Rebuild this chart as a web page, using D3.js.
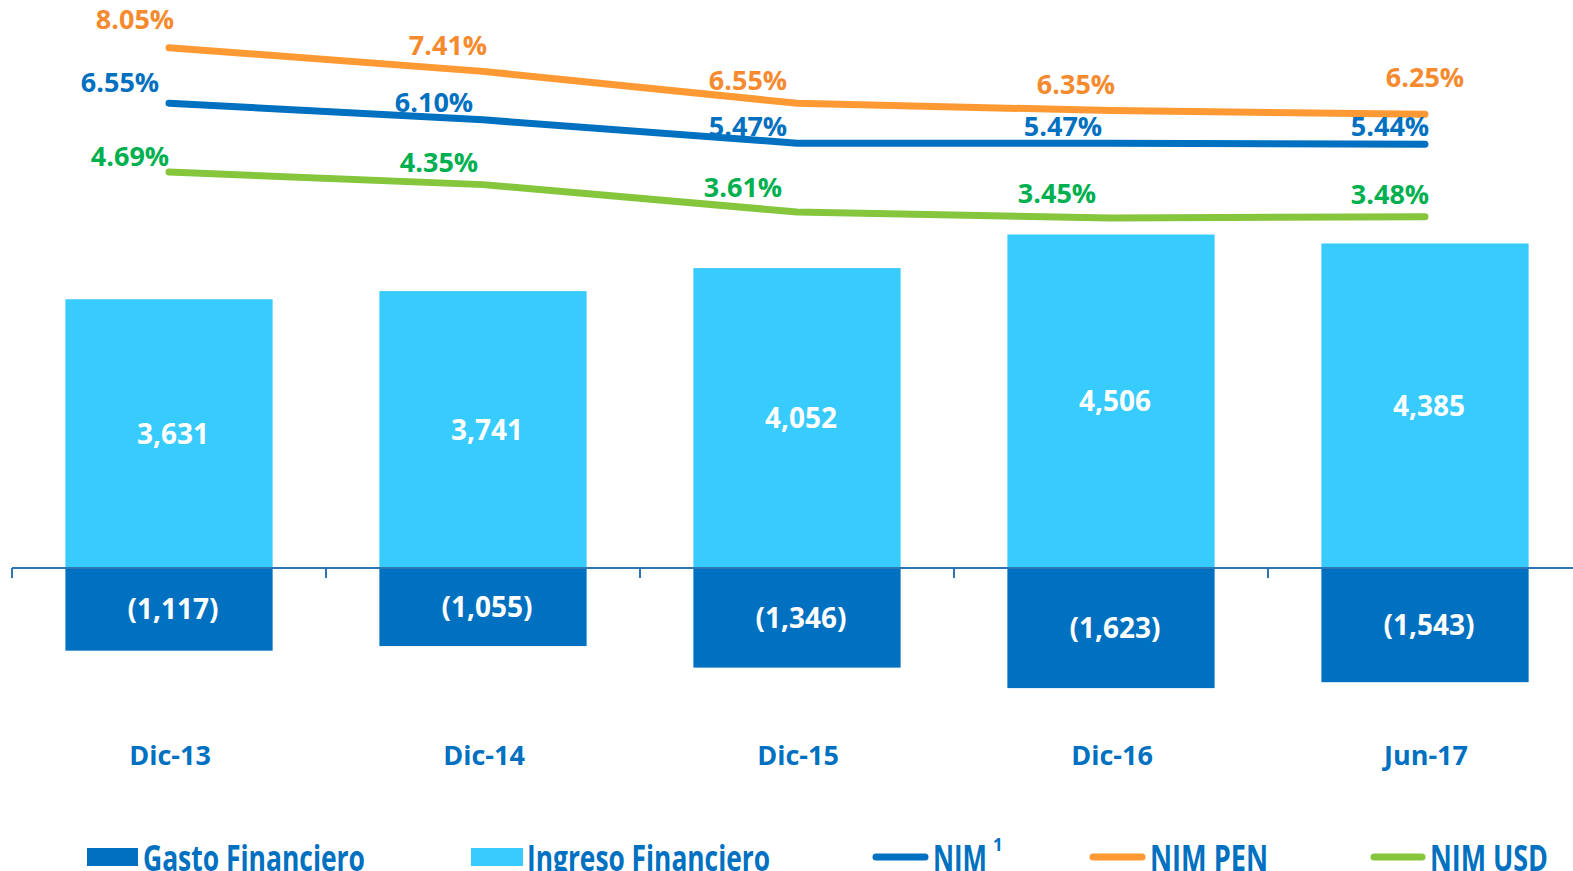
<!DOCTYPE html>
<html>
<head>
<meta charset="utf-8">
<script src="https://cdn.jsdelivr.net/npm/d3@7"></script>
<style>
  html, body { margin: 0; padding: 0; background: #fff; overflow: hidden; }
  svg { display: block; font-family: "Open Sans", sans-serif; font-weight: 700; }
</style>
</head>
<body>
<svg width="1573" height="871"></svg>
<script>
// data
var periods = ["Dic-13", "Dic-14", "Dic-15", "Dic-16", "Jun-17"];
var ingreso = [3631, 3741, 4052, 4506, 4385];
var gasto = [-1117, -1055, -1346, -1623, -1543];
var nim = [6.55, 6.10, 5.47, 5.47, 5.44];
var nimPen = [8.05, 7.41, 6.55, 6.35, 6.25];
var nimUsd = [4.69, 4.35, 3.61, 3.45, 3.48];

var blue = "#0070C0", light = "#38CBFE", orange = "#FF9933", green = "#85C63C";

var svg = d3.select("svg");

var x = d3.scaleBand().domain(periods).range([12, 1582])
  .paddingInner(0.34).paddingOuter(0.17);
var step = x.step();

var yBar = d3.scaleLinear().domain([0, 4506]).range([568, 234.5]);
var yPct = d3.scaleLinear().domain([0, 8.05]).range([345.6, 47.7]);

// bars
svg.append("g").selectAll("rect").data(ingreso).enter().append("rect")
  .attr("x", function (d, i) { return x(periods[i]); })
  .attr("width", x.bandwidth())
  .attr("y", function (d) { return yBar(d); })
  .attr("height", function (d) { return yBar(0) - yBar(d); })
  .attr("fill", light);

svg.append("g").selectAll("rect").data(gasto).enter().append("rect")
  .attr("x", function (d, i) { return x(periods[i]); })
  .attr("width", x.bandwidth())
  .attr("y", yBar(0))
  .attr("height", function (d) { return yBar(d) - yBar(0); })
  .attr("fill", blue);

// zero axis with ticks between categories
var axis = svg.append("g").attr("stroke", "#2E75B6").attr("stroke-width", 2);
axis.append("line").attr("x1", 12).attr("x2", 1573)
  .attr("y1", yBar(0)).attr("y2", yBar(0));
periods.forEach(function (p) {
  var tx = x(p) - step * 0.17;
  axis.append("line").attr("x1", tx).attr("x2", tx)
    .attr("y1", yBar(0)).attr("y2", yBar(0) + 10);
});

// bar labels
var fmt = d3.format(",");
svg.append("g").selectAll("text").data(ingreso).enter().append("text")
  .attr("x", function (d, i) { return x(periods[i]) + x.bandwidth() / 2 + 4; })
  .attr("y", function (d) { return (yBar(d) + yBar(0)) / 2; })
  .attr("dy", "0.36em")
  .attr("text-anchor", "middle").attr("fill", "#fff").attr("font-size", 28)
  .text(function (d) { return fmt(d); });

svg.append("g").selectAll("text").data(gasto).enter().append("text")
  .attr("x", function (d, i) { return x(periods[i]) + x.bandwidth() / 2 + 4; })
  .attr("y", function (d) { return (yBar(d) + yBar(0)) / 2; })
  .attr("dy", "0.36em")
  .attr("text-anchor", "middle").attr("fill", "#fff").attr("font-size", 28)
  .text(function (d) { return "(" + fmt(-d) + ")"; });

// category labels
svg.append("g").selectAll("text").data(periods).enter().append("text")
  .attr("x", function (d) { return x(d) + x.bandwidth() / 2 + 1; })
  .attr("y", 755).attr("dy", "0.36em")
  .attr("text-anchor", "middle").attr("fill", blue).attr("font-size", 27)
  .text(function (d) { return d; });

// lines
var series = [
  { vals: nimPen, line: orange, text: "#F68A2E",
    nudge: [[-34, -28], [-35, -26], [-49, -23], [-35, -26], [0, -37]] },
  { vals: nim, line: blue, text: blue,
    nudge: [[-49, -21], [-49, -18], [-49, -17], [-48, -17], [-35, -18]] },
  { vals: nimUsd, line: green, text: "#00B050",
    nudge: [[-39, -16], [-44, -22], [-54, -25], [-54, -25], [-35, -23]] }
];

var cx = function (i) { return x(periods[i]) + x.bandwidth() / 2; };
var line = d3.line()
  .x(function (d, i) { return cx(i); })
  .y(function (d) { return yPct(d); });

series.forEach(function (s) {
  svg.append("path").datum(s.vals)
    .attr("d", line)
    .attr("fill", "none").attr("stroke", s.line)
    .attr("stroke-width", 7).attr("stroke-linecap", "round")
    .attr("stroke-linejoin", "round");
});

series.forEach(function (s) {
  svg.append("g").selectAll("text").data(s.vals).enter().append("text")
    .attr("x", function (d, i) { return cx(i) + s.nudge[i][0]; })
    .attr("y", function (d, i) { return yPct(d) + s.nudge[i][1]; })
    .attr("dy", "0.36em")
    .attr("text-anchor", "middle").attr("fill", s.text).attr("font-size", 27)
    .text(function (d) { return d.toFixed(2) + "%"; });
});

// legend (cut at the bottom edge, as in the source)
var leg = svg.append("g");
var ly = 857;
leg.append("rect").attr("x", 87).attr("y", ly - 9).attr("width", 51).attr("height", 18).attr("fill", blue);
leg.append("rect").attr("x", 471).attr("y", ly - 9).attr("width", 52).attr("height", 18).attr("fill", light);
[[873, 928, blue], [1090, 1145, orange], [1371, 1425, green]].forEach(function (l) {
  leg.append("line").attr("x1", l[0] + 3).attr("x2", l[1] - 3)
    .attr("y1", ly).attr("y2", ly)
    .attr("stroke", l[2]).attr("stroke-width", 7).attr("stroke-linecap", "round");
});
var legText = [
  ["Gasto Financiero", 143, 222],
  ["Ingreso Financiero", 527, 243],
  ["NIM", 933, 54],
  ["NIM PEN", 1150, 118],
  ["NIM USD", 1430, 118]
];
legText.forEach(function (t) {
  leg.append("text").attr("x", t[1]).attr("y", 871)
    .attr("fill", blue).attr("font-size", 35)
    .attr("textLength", t[2]).attr("lengthAdjust", "spacingAndGlyphs")
    .text(t[0]);
});
leg.append("text").attr("x", 993).attr("y", 851)
  .attr("fill", blue).attr("font-size", 17).text("1");
</script>
</body>
</html>
